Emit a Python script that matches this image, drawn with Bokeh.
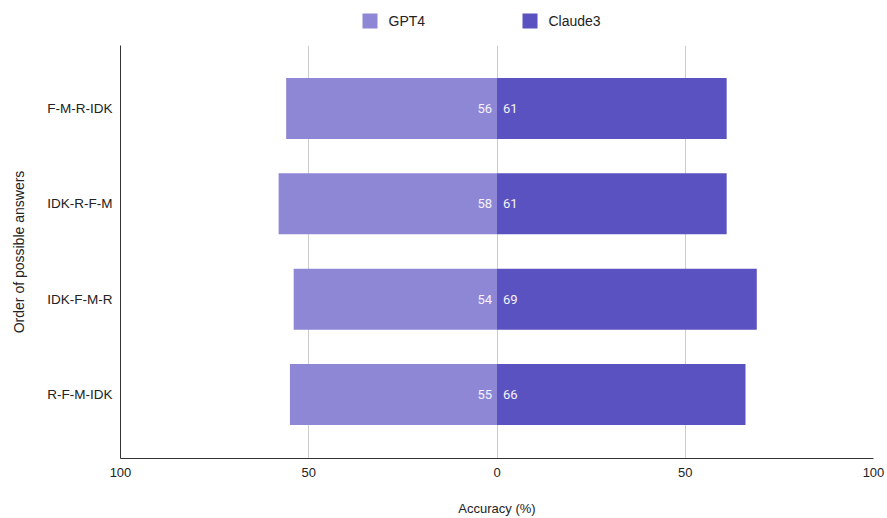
from bokeh.plotting import figure
from bokeh.models import Range1d, FixedTicker, ColumnDataSource
from bokeh.layouts import column
from bokeh.embed import file_html
from bokeh.resources import INLINE
from bokeh.core.properties import value

categories = ["F-M-R-IDK", "IDK-R-F-M", "IDK-F-M-R", "R-F-M-IDK"]
gpt4 = [56, 58, 54, 55]
claude3 = [61, 61, 69, 66]
series_names = ["GPT4", "Claude3"]
x_ticks = [-100, -50, 0, 50, 100]
x_tick_labels = ["100", "50", "0", "50", "100"]

C_GPT = "#8e87d6"
C_CLA = "#5b52c1"
FONT = "Liberation Sans"

W, H_LEG, H_MAIN = 887, 45, 473

# ---------- legend strip (page pixel coordinates; frame aligned with main chart) ----------
leg = figure(width=W, height=H_LEG, output_backend="svg", toolbar_location=None,
             x_range=Range1d(120, 873), y_range=Range1d(H_LEG, 0),
             min_border_left=120, min_border_right=14, min_border_top=0, min_border_bottom=0)
leg.axis.visible = False
leg.grid.visible = False
leg.outline_line_color = None
leg_src = ColumnDataSource(dict(x=[369.5, 529.5], y=[20.5, 20.5], tx=[388, 548],
                                name=series_names, color=[C_GPT, C_CLA]))
leg.rect(x="x", y="y", width=15, height=15, source=leg_src, fill_color="color", line_color=None)
leg.text(x="tx", y="y", text="name", source=leg_src, text_baseline="middle", text_align="left",
         text_font=value(FONT), text_font_size="14px", text_color="#222222")

# ---------- main chart ----------
ypos = list(range(len(categories)))

p = figure(width=W, height=H_MAIN, output_backend="svg", toolbar_location=None,
           x_range=Range1d(-100, 100), y_range=Range1d(3.67, -0.66),
           min_border_left=120, min_border_right=14, min_border_top=0, min_border_bottom=59)
p.outline_line_color = None

src = ColumnDataSource(dict(y=ypos, gl=[-v for v in gpt4], cr=claude3,
                            gt=[str(v) for v in gpt4], ct=[str(v) for v in claude3],
                            zero=[0] * len(ypos)))

p.ygrid.visible = False
p.xgrid.ticker = FixedTicker(ticks=x_ticks)
p.xgrid.grid_line_color = "#cccccc"
p.xgrid.grid_line_width = 1

p.hbar(y="y", left="gl", right="zero", height=0.64, source=src,
       fill_color=C_GPT, line_color=None)
p.hbar(y="y", left="zero", right="cr", height=0.64, source=src,
       fill_color=C_CLA, line_color=None)

p.text(x="zero", y="y", text="gt", source=src, x_offset=-5, text_align="right",
       text_baseline="middle", text_color="#f4f3fb", text_font=value("Roboto"),
       text_font_size="13px")
p.text(x="zero", y="y", text="ct", source=src, x_offset=6, text_align="left",
       text_baseline="middle", text_color="#f4f3fb", text_font=value("Roboto"),
       text_font_size="13px")

xa = p.xaxis[0]
xa.ticker = FixedTicker(ticks=x_ticks)
xa.major_label_overrides = {t: l for t, l in zip(x_ticks, x_tick_labels)}
xa.major_tick_line_color = None
xa.minor_tick_line_color = None
xa.major_tick_out = 0
xa.major_label_standoff = 9
xa.axis_line_color = "#333333"
xa.major_label_text_font = FONT
xa.major_label_text_font_size = "13px"
xa.major_label_text_color = "#222222"
xa.axis_label = "Accuracy (%)"
xa.axis_label_standoff = 21
xa.axis_label_text_font = FONT
xa.axis_label_text_font_size = "13px"
xa.axis_label_text_font_style = "normal"
xa.axis_label_text_color = "#222222"

ya = p.yaxis[0]
ya.ticker = FixedTicker(ticks=ypos)
ya.major_label_overrides = {i: c for i, c in zip(ypos, categories)}
ya.major_tick_line_color = None
ya.minor_tick_line_color = None
ya.major_tick_out = 0
ya.major_label_standoff = 8
ya.axis_line_color = "#333333"
ya.major_label_text_font = FONT
ya.major_label_text_font_size = "13.5px"
ya.major_label_text_color = "#222222"
ya.axis_label = "Order of possible answers"
ya.axis_label_standoff = 17
ya.axis_label_text_font = FONT
ya.axis_label_text_font_size = "14px"
ya.axis_label_text_font_style = "normal"
ya.axis_label_text_color = "#222222"

layout = column(leg, p, spacing=0)
open("out.html", "w").write(file_html(layout, INLINE))
